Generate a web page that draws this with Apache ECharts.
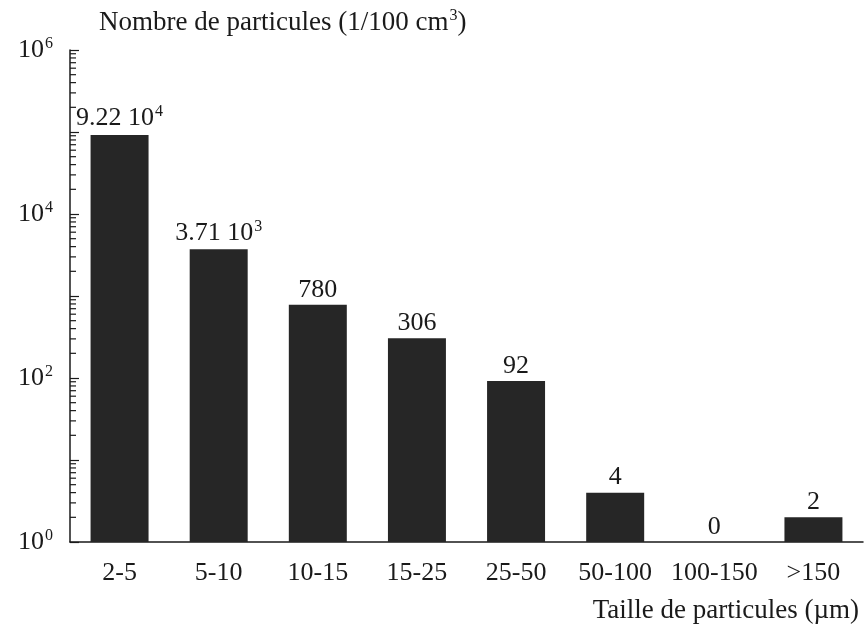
<!DOCTYPE html>
<html>
<head>
<meta charset="utf-8">
<script src="https://cdn.jsdelivr.net/npm/echarts@6/dist/echarts.min.js"></script>
<style>
html,body{margin:0;padding:0;background:#fff;}
#chart{width:866px;height:630px;}
</style>
</head>
<body>
<div id="chart"></div>
<script>
// ---- data ----
const categories = ['2-5', '5-10', '10-15', '15-25', '25-50', '50-100', '100-150', '>150'];
const counts = [92200, 3710, 780, 306, 92, 4, 0, 2];
const yMin = 1;
const yMax = 1000000;
const yLabelExponents = [0, 2, 4, 6];
const titleText = 'Nombre de particules (1/100 cm';
const xTitleText = 'Taille de particules (µm)';

const FONT = '"Liberation Serif", "Times New Roman", serif';
const INK = '#1a1a1a';
const supStyle = { fontSize: 16, fontFamily: FONT, fontWeight: 'normal', color: INK, verticalAlign: 'top', padding: [0, 0, 13, 1] };

function fmtCount(v) {
  if (v >= 1000) {
    const e = Math.floor(Math.log10(v));
    const m = (v / Math.pow(10, e)).toFixed(2);
    return '{b|' + m + ' 10}{s|' + e + '}';
  }
  return '{b|' + v + '}';
}

// minor tick values (2..9 x 10^d) between decades
const minorTicks = [];
for (let d = 0; d < 6; d++) {
  for (let m = 2; m <= 9; m++) minorTicks.push(m * Math.pow(10, d));
}

const chart = echarts.init(document.getElementById('chart'), null, { renderer: 'canvas' });
chart.setOption({
  backgroundColor: '#ffffff',
  animation: false,
  title: [
    {
      text: '{t|' + titleText + '}{s|3}{t|)}',
      left: 94, top: 3,
      textStyle: { fontWeight: 'normal', rich: { t: { fontSize: 27, fontFamily: FONT, fontWeight: 'normal', color: INK }, s: supStyle } }
    },
    {
      text: '{t|' + xTitleText + '}',
      right: 2, top: 592,
      textStyle: { fontWeight: 'normal', rich: { t: { fontSize: 27, fontFamily: FONT, fontWeight: 'normal', color: INK } } }
    }
  ],
  grid: { left: 70, right: 3, top: 50, bottom: 88 },
  xAxis: {
    type: 'category',
    data: categories,
    axisLine: { lineStyle: { color: INK, width: 1.5 } },
    axisTick: { show: false },
    axisLabel: { interval: 0, hideOverlap: false, color: INK, fontSize: 26, fontFamily: FONT, margin: 18 }
  },
  yAxis: {
    type: 'log',
    logBase: 10,
    min: yMin,
    max: yMax,
    splitLine: { show: false },
    axisLine: { show: true, lineStyle: { color: INK, width: 1.5 } },
    axisTick: { show: true, inside: true, length: 9, lineStyle: { color: INK, width: 1.2 } },
    axisLabel: {
      margin: 17,
      formatter: function (v) {
        const e = Math.round(Math.log10(v));
        return yLabelExponents.indexOf(e) >= 0 ? '{b|10}{s|' + e + '}' : '';
      },
      rich: { b: { fontSize: 26, fontFamily: FONT, color: INK }, s: supStyle }
    }
  },
  series: [
    {
      type: 'bar',
      barWidth: '58.5%',
      data: counts.map(c => (c > 0 ? c : yMin)),
      itemStyle: { color: '#262626' },
      label: {
        show: true,
        position: 'top',
        distance: 2,
        formatter: function (p) { return fmtCount(counts[p.dataIndex]); },
        rich: { b: { fontSize: 26, fontFamily: FONT, color: INK }, s: supStyle }
      }
    },
    {
      type: 'custom',
      silent: true,
      clip: false,
      data: minorTicks.map(v => [0, v]),
      renderItem: function (params, api) {
        const p = api.coord([0, api.value(1)]);
        const half = api.size([1, 0])[0] / 2;
        const x0 = p[0] - half;
        return {
          type: 'line',
          shape: { x1: x0, y1: p[1], x2: x0 + 6, y2: p[1] },
          style: { stroke: INK, lineWidth: 1.2 }
        };
      }
    }
  ]
});
</script>
</body>
</html>
